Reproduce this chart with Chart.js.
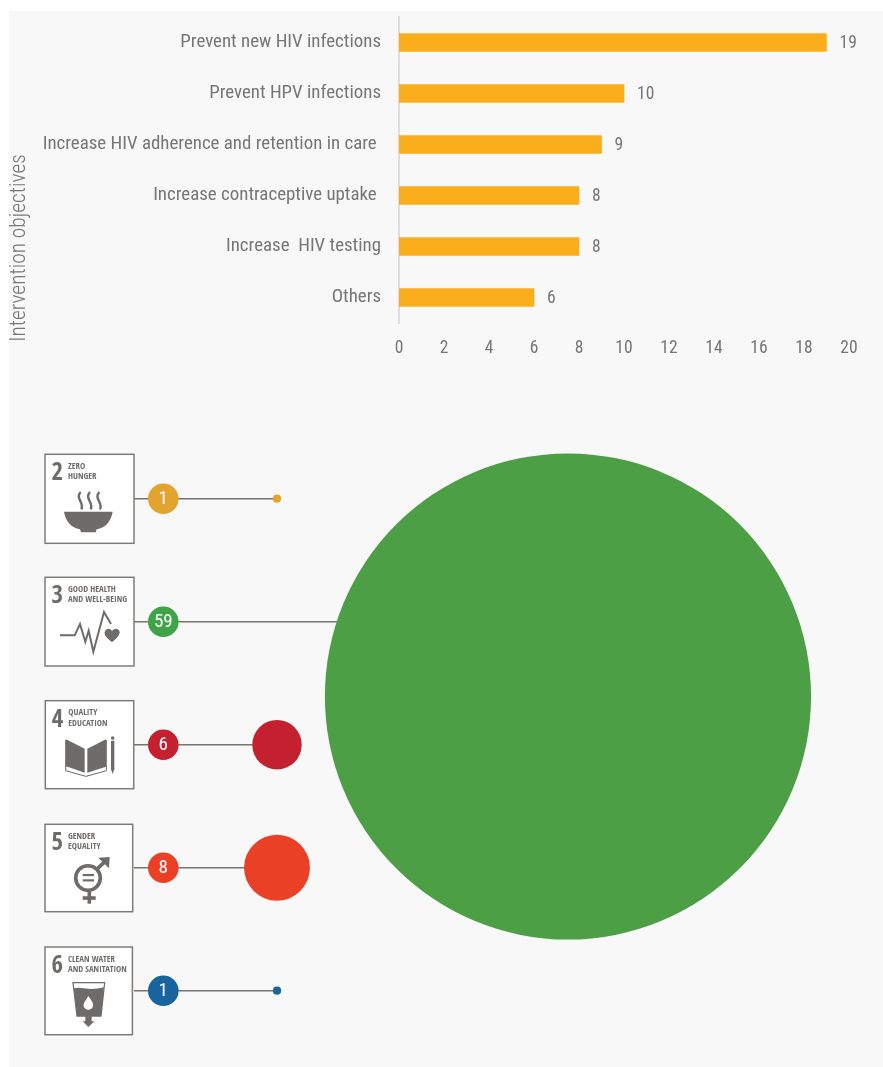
<!DOCTYPE html>
<html>
<head>
<meta charset="utf-8">
<script src="https://cdn.jsdelivr.net/npm/chart.js@4/dist/chart.umd.min.js"></script>
<style>
html,body{margin:0;padding:0;background:#fff;width:883px;height:1067px;overflow:hidden}
#panel{position:absolute;left:9px;top:11px;width:874px;height:1056px;background:#f8f8f8}
canvas{position:absolute;left:0}
#bars{top:0}
#bubbles{top:420px}
</style>
</head>
<body>
<div id="panel"></div>
<canvas id="bars" width="883" height="380"></canvas>
<canvas id="bubbles" width="883" height="647"></canvas>
<script>
// ---- Bar chart data
const objectives = [
  'Prevent new HIV infections',
  'Prevent HPV infections',
  'Increase HIV adherence and retention in care ',
  'Increase contraceptive uptake ',
  'Increase  HIV testing',
  'Others'
];
const studyCounts = [19, 10, 9, 8, 8, 6];
const axisTitle = 'Intervention objectives';

// ---- SDG bubble data
const sdgNumbers = ['2', '3', '4', '5', '6'];
const sdgTitles = [
  ['ZERO', 'HUNGER'],
  ['GOOD HEALTH', 'AND WELL-BEING'],
  ['QUALITY', 'EDUCATION'],
  ['GENDER', 'EQUALITY'],
  ['CLEAN WATER', 'AND SANITATION']
];
const sdgCounts = [1, 59, 6, 8, 1];
const sdgRows = [0, 1, 2, 3, 4];
const bubbleColumn = [1, 3.559, 1, 1, 1];
const bubbleRow = [0, 1.608, 2, 3, 4];
const lineEnd = [1, 1.6, 1, 1, 1];
const badgeColors = ['#e3a32f', '#3fa447', '#c5202f', '#ea4026', '#19649f'];
const bubbleColors = ['#e3a32f', '#4d9f45', '#c5202f', '#ea4026', '#19649f'];

const FONT = '"Roboto Condensed",Roboto,sans-serif';
const ICONFONT = '"Open Sans Condensed","Roboto Condensed",sans-serif';
const GREY = '#757678';
const ICON = '#6e6c6a';
const RADIUS_PER_STUDY = 4.12;

// ---- Bars
const barPlugin = {
  id: 'barExtras',
  afterDatasetsDraw(chart) {
    const {ctx} = chart;
    const meta = chart.getDatasetMeta(0);
    ctx.save();
    ctx.fillStyle = GREY;
    ctx.font = '400 17.5px ' + FONT;
    ctx.textAlign = 'left';
    ctx.textBaseline = 'middle';
    meta.data.forEach((bar, i) => ctx.fillText(String(studyCounts[i]), bar.x + 13, bar.y + 1));
    ctx.translate(20, 248);
    ctx.rotate(-Math.PI / 2);
    ctx.textAlign = 'center';
    ctx.font = '300 21.4px ' + FONT;
    ctx.fillText(axisTitle, 0, 0);
    ctx.restore();
  }
};

new Chart(document.getElementById('bars'), {
  type: 'bar',
  data: {
    labels: objectives,
    datasets: [{
      data: studyCounts,
      backgroundColor: '#faae1b',
      barThickness: 18
    }]
  },
  options: {
    indexAxis: 'y',
    responsive: false,
    animation: false,
    layout: {autoPadding: false, padding: {top: 17, right: 34, left: 0, bottom: 0}},
    plugins: {legend: {display: false}, tooltip: {enabled: false}},
    scales: {
      x: {
        min: 0, max: 20,
        grid: {display: false, drawTicks: false},
        border: {display: false},
        ticks: {stepSize: 2, color: GREY, font: {family: FONT, size: 17.5, weight: '400'}, padding: 15, maxRotation: 0},
        afterFit(s) { s.height = 57; }
      },
      y: {
        grid: {display: false, drawTicks: false},
        border: {display: true, color: '#dedede', width: 2},
        ticks: {color: GREY, font: {family: FONT, size: 18.9, weight: '400'}, padding: 18, autoSkip: false},
        afterFit(s) { s.width = 399; s.paddingTop = 0; s.paddingBottom = 0; }
      }
    }
  },
  plugins: [barPlugin]
});

// ---- Icons (drawn relative to each row's centre)
function shape(ctx, pts, close) {
  ctx.beginPath();
  pts.forEach((p, i) => i ? ctx.lineTo(p[0], p[1]) : ctx.moveTo(p[0], p[1]));
  if (close) ctx.closePath();
}
const boxes = [
  {l: 45, r: 134, t: -44.4, b: 44.6},
  {l: 45, r: 134, t: -44.4, b: 44.3},
  {l: 45.3, r: 133.7, t: -44, b: 44},
  {l: 45, r: 132.7, t: -43.4, b: 44},
  {l: 45, r: 132.4, t: -43.7, b: 44}
];
const iconDrawers = [
  function bowl(ctx, z) {
    ctx.fillStyle = ICON;
    ctx.beginPath();
    ctx.moveTo(...z(102, 200)); ctx.lineTo(...z(248, 200));
    ctx.quadraticCurveTo(...z(240, 245), ...z(200, 253));
    ctx.lineTo(...z(197, 262)); ctx.lineTo(...z(153, 262)); ctx.lineTo(...z(150, 253));
    ctx.quadraticCurveTo(...z(110, 245), ...z(102, 200));
    ctx.fill();
    ctx.strokeStyle = ICON; ctx.lineWidth = 2.4;
    [148, 176, 204].forEach(x => {
      ctx.beginPath();
      ctx.moveTo(...z(x + 4, 141));
      ctx.bezierCurveTo(...z(x - 14, 160), ...z(x + 16, 172), ...z(x + 6, 193));
      ctx.stroke();
    });
  },
  function pulse(ctx, z) {
    ctx.strokeStyle = ICON; ctx.lineWidth = 2; ctx.lineJoin = 'miter';
    shape(ctx, [[90, 571], [134, 571], [150, 537], [166, 590], [176, 557], [190, 620], [222, 501], [243, 537]].map(p => z(p[0], p[1])));
    ctx.stroke();
    ctx.fillStyle = ICON;
    ctx.beginPath();
    ctx.moveTo(...z(246, 592));
    ctx.bezierCurveTo(...z(232, 580), ...z(222, 572), ...z(224, 562));
    ctx.bezierCurveTo(...z(226, 548), ...z(244, 548), ...z(246, 559));
    ctx.bezierCurveTo(...z(250, 548), ...z(268, 548), ...z(269, 562));
    ctx.bezierCurveTo(...z(269, 572), ...z(258, 582), ...z(246, 592));
    ctx.fill();
  },
  function book(ctx, z) {
    ctx.fillStyle = ICON;
    shape(ctx, [[108, 148], [164, 176], [164, 248], [113, 230], [108, 230]].map(p => z(p[0], p[1])), true);
    ctx.fill();
    shape(ctx, [[172, 176], [228, 148], [228, 230], [172, 248]].map(p => z(p[0], p[1])), true);
    ctx.fill();
    ctx.strokeStyle = ICON; ctx.lineWidth = 1;
    shape(ctx, [[107, 150], [107, 242], [168, 259], [229, 242], [229, 150]].map(p => z(p[0], p[1])));
    ctx.stroke();
    shape(ctx, [[243, 152], [253, 152], [253, 238], [248, 252], [243, 238]].map(p => z(p[0], p[1])), true);
    ctx.fill();
    ctx.beginPath();
    ctx.arc(...z(248, 144), 1.8, 0, 7);
    ctx.fill();
  },
  function gender(ctx, z) {
    ctx.strokeStyle = ICON; ctx.fillStyle = ICON; ctx.lineWidth = 3.6;
    ctx.beginPath();
    ctx.arc(...z(174, 564), 12.3, 0, 7);
    ctx.stroke();
    shape(ctx, [z(200, 538), z(232, 508)]);
    ctx.stroke();
    shape(ctx, [[205, 503], [239, 501], [237, 535]].map(p => z(p[0], p[1])), true);
    ctx.fill();
    shape(ctx, [z(178, 600), z(178, 641)]);
    ctx.stroke();
    shape(ctx, [z(158, 624), z(197, 624)]);
    ctx.stroke();
    ctx.lineWidth = 2.2;
    shape(ctx, [z(158, 555), z(192, 555)]); ctx.stroke();
    shape(ctx, [z(158, 571), z(192, 571)]); ctx.stroke();
  },
  function water(ctx, z) {
    ctx.strokeStyle = ICON; ctx.fillStyle = ICON; ctx.lineWidth = 1.2;
    shape(ctx, [[219, 158], [314, 158], [303, 258], [231, 258]].map(p => z(p[0], p[1])), true);
    ctx.stroke();
    ctx.beginPath();
    ctx.moveTo(...z(221, 175));
    ctx.bezierCurveTo(...z(245, 168), ...z(262, 184), ...z(312, 172));
    ctx.lineTo(...z(303, 258)); ctx.lineTo(...z(231, 258));
    ctx.closePath(); ctx.fill();
    shape(ctx, [[256, 258], [275, 258], [275, 274], [283, 274], [265, 291], [248, 274], [256, 274]].map(p => z(p[0], p[1])), true);
    ctx.fill();
    ctx.fillStyle = '#fff';
    ctx.beginPath();
    ctx.moveTo(...z(265, 198));
    ctx.bezierCurveTo(...z(275, 212), ...z(282, 222), ...z(279, 228));
    ctx.bezierCurveTo(...z(276, 243), ...z(254, 243), ...z(251, 228));
    ctx.bezierCurveTo(...z(249, 222), ...z(256, 212), ...z(265, 198));
    ctx.fill();
  }
];
const zoomRef = [[30, 161], [30, 530], [30, 164], [30, 533], [0, 182]];

const sdgPlugin = {
  id: 'sdgExtras',
  afterDatasetsDraw(chart) {
    const {ctx, scales} = chart;
    sdgRows.forEach((row, i) => {
      const cy = scales.y.getPixelForValue(row);
      const cx = scales.x.getPixelForValue(0);
      const b = boxes[i];
      ctx.save();
      ctx.fillStyle = '#fff';
      ctx.strokeStyle = '#7f7b77';
      ctx.lineWidth = 1.5;
      ctx.fillRect(b.l, cy + b.t, b.r - b.l, b.b - b.t);
      ctx.strokeRect(b.l, cy + b.t, b.r - b.l, b.b - b.t);
      ctx.fillStyle = ICON;
      ctx.textAlign = 'left';
      ctx.textBaseline = 'alphabetic';
      ctx.font = 'bold 25px ' + ICONFONT;
      ctx.fillText(sdgNumbers[i], b.l + 6.5, cy + b.t + 26);
      ctx.font = 'bold 8.8px ' + ICONFONT;
      sdgTitles[i].forEach((t, k) => ctx.fillText(t, b.l + 23, cy + b.t + 14.5 + k * 10.5));
      const ref = zoomRef[i];
      const z = (zx, zy) => [ref[0] + zx / 3, cy + (zy - ref[1]) / 3];
      iconDrawers[i](ctx, z);
      ctx.fillStyle = '#fff';
      ctx.textAlign = 'center';
      ctx.textBaseline = 'middle';
      ctx.font = '400 19px ' + FONT;
      ctx.fillText(String(sdgCounts[i]), cx, cy + 1);
      ctx.restore();
    });
  }
};

const connectorSets = sdgRows.map((row, i) => ({
  type: 'line',
  data: [{x: -0.258, y: row}, {x: lineEnd[i], y: row}],
  borderColor: '#77736e',
  borderWidth: 1.5,
  pointRadius: 0,
  order: 3
}));

new Chart(document.getElementById('bubbles'), {
  type: 'bubble',
  data: {
    datasets: [
      ...connectorSets,
      {
        label: 'Studies per SDG',
        data: sdgCounts.map((v, i) => ({x: bubbleColumn[i], y: bubbleRow[i], v})),
        backgroundColor: bubbleColors,
        borderWidth: 0,
        radius: c => c.raw.v * RADIUS_PER_STUDY,
        order: 2
      },
      {
        label: 'Count badges',
        data: sdgRows.map(row => ({x: 0, y: row})),
        backgroundColor: badgeColors,
        borderWidth: 0,
        radius: 15.3,
        order: 1
      }
    ]
  },
  options: {
    responsive: false,
    animation: false,
    layout: {autoPadding: false, padding: 0},
    plugins: {legend: {display: false}, tooltip: {enabled: false}},
    scales: {
      x: {type: 'linear', display: false, min: -163.3 / 113.7, max: (883 - 163.3) / 113.7},
      y: {type: 'linear', display: false, reverse: true, min: -78.7 / 123, max: (647 - 78.7) / 123}
    }
  },
  plugins: [sdgPlugin]
});
</script>
</body>
</html>
